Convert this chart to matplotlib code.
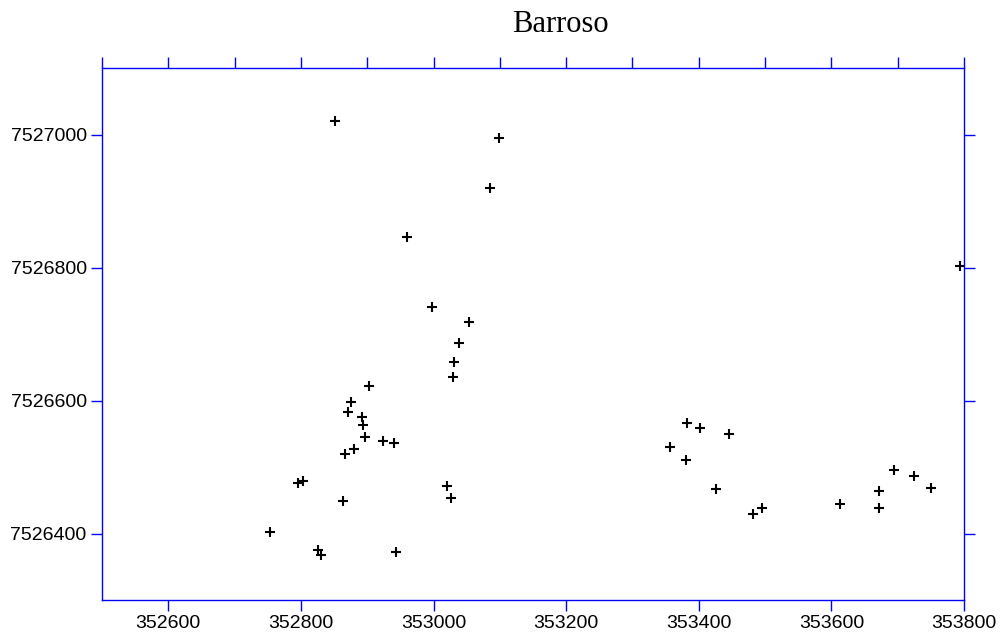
import matplotlib
matplotlib.use('Agg')
import matplotlib.pyplot as plt
from matplotlib.ticker import MultipleLocator, FixedLocator

# Point coordinates (easting, northing)
easting = [352852, 353099, 353085, 352960, 352998, 353053, 353039, 353031, 353030,
           352903, 352876, 352871, 352892, 352894, 352897, 352924, 352941, 352880,
           352866, 352795, 352803, 352864, 353021, 353027, 352754, 352825, 352830,
           352943, 353794,
           353382, 353402, 353446, 353356, 353380, 353426, 353482, 353495, 353613,
           353672, 353672, 353694, 353725, 353750]
northing = [7527020, 7526995, 7526920, 7526846, 7526740, 7526718, 7526687, 7526658, 7526635,
            7526622, 7526598, 7526582, 7526575, 7526563, 7526545, 7526539, 7526536, 7526527,
            7526520, 7526476, 7526479, 7526449, 7526472, 7526453, 7526403, 7526375, 7526368,
            7526372, 7526803,
            7526566, 7526559, 7526550, 7526530, 7526510, 7526467, 7526429, 7526438, 7526444,
            7526464, 7526439, 7526495, 7526487, 7526469]

x_ticks = [352600, 352800, 353000, 353200, 353400, 353600, 353800]
y_ticks = [7526400, 7526600, 7526800, 7527000]

fig = plt.figure(figsize=(10.02, 6.34), dpi=100)
ax = fig.add_axes([102 / 1002, 34 / 634, 862 / 1002, 532 / 634])

ax.plot(easting, northing, linestyle='none', marker='+', color='black',
        markersize=7.5, markeredgewidth=1.5, clip_on=False)

ax.set_xlim(352500, 353800)
ax.set_ylim(7526300, 7527100)

ax.xaxis.set_major_locator(FixedLocator(x_ticks))
ax.xaxis.set_minor_locator(MultipleLocator(100))
ax.yaxis.set_major_locator(FixedLocator(y_ticks))
ax.set_xticklabels([str(v) for v in x_ticks])
ax.set_yticklabels([str(v) for v in y_ticks])

for side in ['top', 'bottom', 'left', 'right']:
    ax.spines[side].set_color('blue')
    ax.spines[side].set_linewidth(1.0)

ax.tick_params(axis='both', which='major', direction='out', length=8, width=1.0,
               color='blue', labelsize=14, pad=3, top=True, right=True,
               labelcolor='black')
ax.tick_params(axis='x', which='minor', direction='out', length=8, width=1.0,
               color='blue', bottom=False, top=True)
for lbl in ax.get_xticklabels() + ax.get_yticklabels():
    lbl.set_fontfamily('Liberation Sans')

fig.text(560 / 1002, 1 - 24 / 634, 'Barroso', ha='center', va='center',
         fontsize=22, fontfamily='Liberation Serif')

fig.savefig('out.png', dpi=100)
